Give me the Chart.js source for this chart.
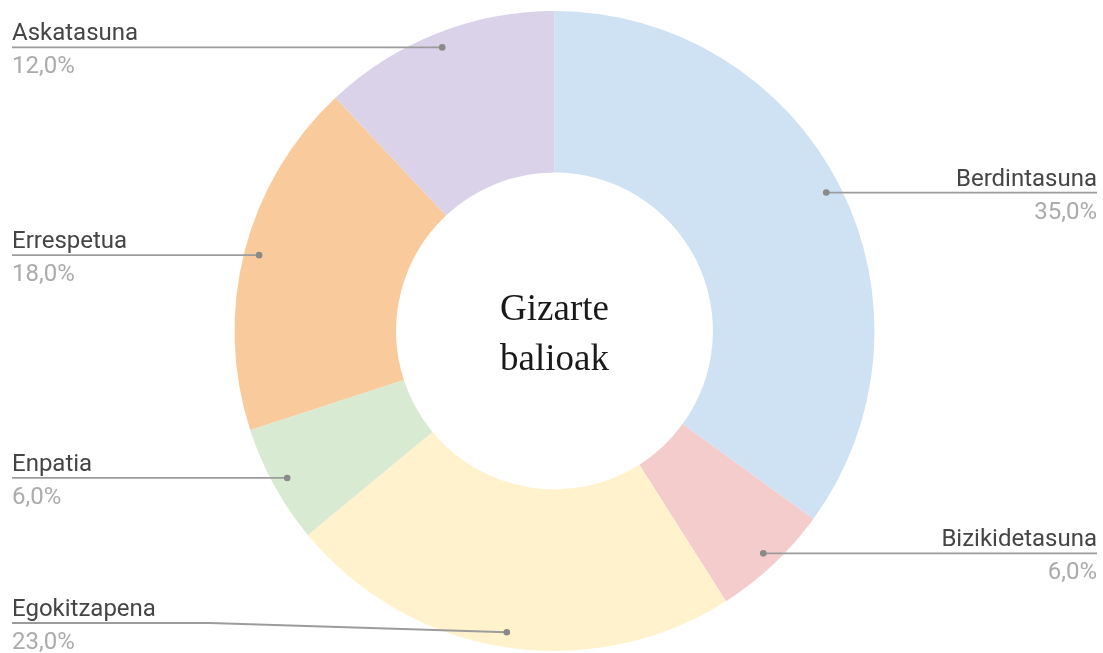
<!DOCTYPE html>
<html>
<head>
<meta charset="utf-8">
<script src="https://cdn.jsdelivr.net/npm/chart.js@4"></script>
<style>
  html, body { margin: 0; padding: 0; background: #fff; }
  #wrap { width: 1103px; height: 653px; position: relative; }
</style>
</head>
<body>
<div id="wrap"><canvas id="donut" width="1103" height="653"></canvas></div>
<script>
// ------------------- Data ------------------- //
const categories = ["Berdintasuna", "Bizikidetasuna", "Egokitzapena", "Enpatia", "Errespetua", "Askatasuna"];
const values = [35, 6, 23, 6, 18, 12];
const sliceColors = ["#cfe2f3", "#f4cccc", "#fff2cc", "#d9ead3", "#f9cb9c", "#d9d2e9"];
const centerTitle = ["Gizarte", "balioak"];

// Format a share as "35,0%"
function pct(v, total) {
  return (v / total * 100).toFixed(1).replace(".", ",") + "%";
}

// ------------------- Plugins ------------------- //

// Title text inside the hole
const centerText = {
  id: "centerText",
  afterDraw(chart) {
    const arc = chart.getDatasetMeta(0).data[0];
    const ctx = chart.ctx;
    ctx.save();
    ctx.fillStyle = "#1a1a1a";
    ctx.font = "37px 'Liberation Serif', 'Times New Roman', serif";
    ctx.textAlign = "center";
    ctx.textBaseline = "alphabetic";
    ctx.fillText(centerTitle[0], arc.x, arc.y - 11);
    ctx.fillText(centerTitle[1], arc.x, arc.y + 39);
    ctx.restore();
  }
};

// Name + percentage with a leader line to each slice
const sideLabels = {
  id: "sideLabels",
  afterDraw(chart) {
    const ctx = chart.ctx;
    const meta = chart.getDatasetMeta(0);
    const total = values.reduce((a, b) => a + b, 0);
    const W = chart.width;
    const maxLineY = chart.height - 30;

    ctx.save();
    meta.data.forEach((arc, i) => {
      const mid = (arc.startAngle + arc.endAngle) / 2;
      const r = arc.outerRadius - 15;
      const dx = arc.x + Math.cos(mid) * r;
      const dy = arc.y + Math.sin(mid) * r;
      const right = Math.cos(mid) >= 0;
      const edgeX = right ? W - 6 : 12;
      const lineY = Math.min(dy, maxLineY);

      // leader line
      ctx.strokeStyle = "#9c9c9c";
      ctx.lineWidth = 1.8;
      ctx.beginPath();
      ctx.moveTo(edgeX, lineY);
      if (lineY !== dy) {
        ctx.lineTo(edgeX + (dx - edgeX) * 0.4, lineY);
      }
      ctx.lineTo(dx, dy);
      ctx.stroke();

      // dot on the slice
      ctx.fillStyle = "#8a8a8a";
      ctx.beginPath();
      ctx.arc(dx, dy, 3.3, 0, Math.PI * 2);
      ctx.fill();

      // texts
      ctx.textAlign = right ? "right" : "left";
      ctx.textBaseline = "alphabetic";
      ctx.font = "24px Roboto, 'Liberation Sans', sans-serif";
      ctx.fillStyle = "#454545";
      ctx.fillText(categories[i], edgeX, lineY - 7);
      ctx.fillStyle = "#ababab";
      ctx.fillText(pct(values[i], total), edgeX, lineY + 26);
    });
    ctx.restore();
  }
};

// ------------------- Chart ------------------- //
new Chart(document.getElementById("donut").getContext("2d"), {
  type: "doughnut",
  data: {
    labels: categories,
    datasets: [{
      data: values,
      backgroundColor: sliceColors,
      borderWidth: 0,
      hoverOffset: 0
    }]
  },
  options: {
    responsive: false,
    animation: false,
    cutout: "49.5%",
    layout: { padding: { top: 11, bottom: 2, left: 6, right: 0 } },
    plugins: {
      legend: { display: false },
      tooltip: { enabled: false }
    }
  },
  plugins: [centerText, sideLabels]
});
</script>
</body>
</html>
